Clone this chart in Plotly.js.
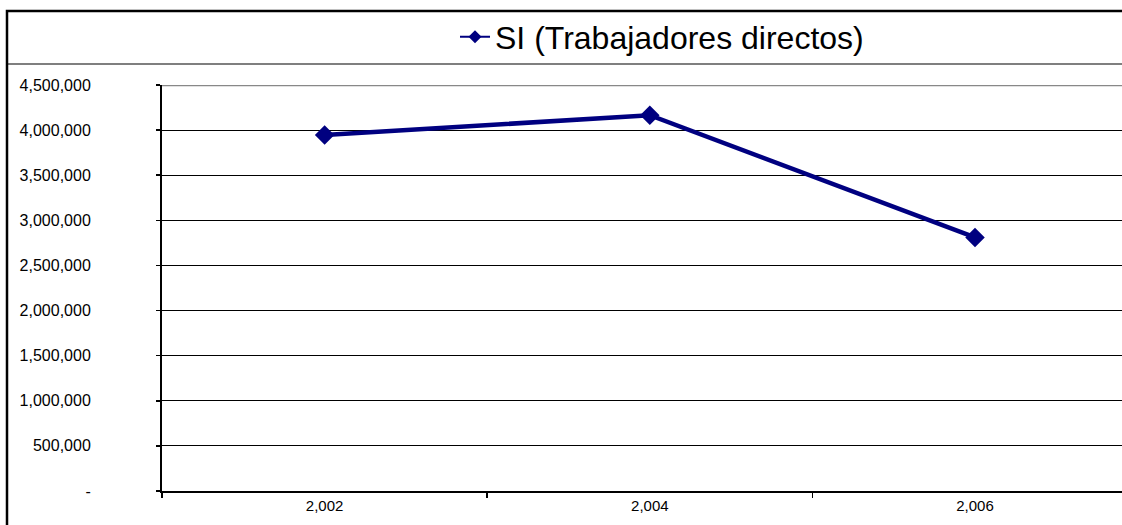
<!DOCTYPE html>
<html>
<head>
<meta charset="utf-8">
<script src="https://cdn.plot.ly/plotly-3.0.1.min.js"></script>
<style>html,body{margin:0;padding:0;background:#fff;}#chart{width:1122px;height:525px;}</style>
</head>
<body>
<div id="chart"></div>
<script>
const years = ['2,002', '2,004', '2,006'];
const trabajadoresDirectos = [3945000, 4165000, 2810000];
const seriesName = 'SI (Trabajadores directos)';
const yTickVals = [0, 500000, 1000000, 1500000, 2000000, 2500000, 3000000, 3500000, 4000000, 4500000];
const yTickText = ['-', '500,000', '1,000,000', '1,500,000', '2,000,000', '2,500,000', '3,000,000', '3,500,000', '4,000,000', '4,500,000'];

const W = 1122, H = 525, L = 162, T = 85, B = 34;
const pw = W - L, ph = H - T - B;
const px = v => (v - L) / pw;
const py = v => (H - B - v) / ph;

const trace = {
  x: years,
  y: trabajadoresDirectos,
  type: 'scatter',
  mode: 'lines+markers',
  name: seriesName,
  showlegend: false,
  line: {color: '#000080', width: 4.5},
  marker: {symbol: 'diamond', size: 15, color: '#000080'}
};

// legend entry only (no data drawn), styled like the thin legend sample
const legendEntry = {
  x: [null], y: [null],
  type: 'scatter',
  mode: 'lines+markers',
  name: seriesName,
  showlegend: true,
  line: {color: '#000080', width: 2},
  marker: {symbol: 'diamond', size: 10, color: '#000080'}
};

const layout = {
  width: W, height: H,
  margin: {l: L, r: 0, t: T, b: B},
  paper_bgcolor: '#fff', plot_bgcolor: '#fff',
  font: {family: 'Liberation Sans, Arial, sans-serif', color: '#000', size: 15},
  showlegend: true,
  legend: {
    x: px(455), xanchor: 'left', y: py(37), yanchor: 'middle',
    font: {size: 32, color: '#000'}, bgcolor: 'rgba(0,0,0,0)', borderwidth: 0
  },
  xaxis: {
    type: 'category',
    range: [-0.5, 2.452],
    tickson: 'boundaries',
    ticks: 'outside', ticklen: 5, tickcolor: '#000', tickwidth: 1.5,
    showgrid: false, zeroline: false,
    showline: true, linecolor: '#000', linewidth: 2,
    tickfont: {size: 15}, fixedrange: true
  },
  yaxis: {
    range: [0, 4500000],
    tickvals: yTickVals, ticktext: yTickText,
    ticks: 'outside', ticklen: 4, tickcolor: '#000', tickwidth: 1.5,
    ticklabelstandoff: 62,
    showgrid: true, gridcolor: '#000', gridwidth: 1,
    zeroline: false,
    showline: true, linecolor: '#000', linewidth: 2,
    tickfont: {size: 16}, fixedrange: true
  },
  shapes: [
    {type: 'line', xref: 'paper', yref: 'y', x0: 0, x1: 1.02, y0: 4500000, y1: 4500000,
     line: {color: '#888', width: 2.5}},
    {type: 'line', xref: 'paper', yref: 'paper', x0: px(7), x1: 1.02, y0: py(64), y1: py(64),
     line: {color: '#000', width: 1.2}},
    {type: 'rect', xref: 'paper', yref: 'paper', x0: px(7), x1: 1.05, y0: py(11), y1: py(540),
     line: {color: '#000', width: 2.5}, fillcolor: 'rgba(0,0,0,0)'}
  ]
};

Plotly.newPlot('chart', [trace, legendEntry], layout, {displayModeBar: false, staticPlot: true});
</script>
</body>
</html>
